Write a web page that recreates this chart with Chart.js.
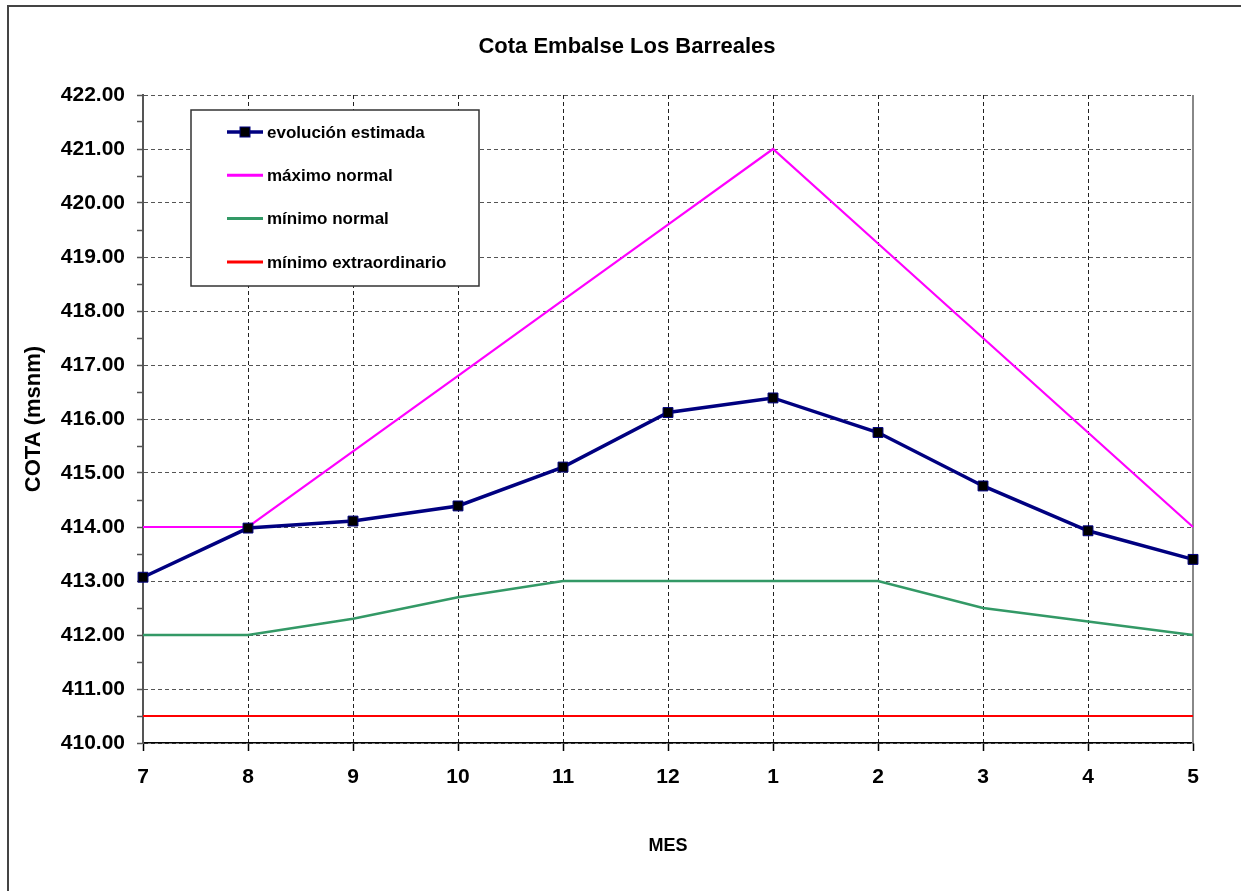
<!DOCTYPE html>
<html>
<head>
<meta charset="utf-8">
<title>Cota Embalse Los Barreales</title>
<script src="https://cdn.jsdelivr.net/npm/chart.js@4.4.1/dist/chart.umd.min.js"></script>
<style>
  body { margin: 0; background: #fff; }
  canvas { display: block; }
</style>
</head>
<body>
<canvas id="cotaChart" width="1241" height="891"></canvas>
<script>
// Meses del año hidrológico (julio a mayo)
const meses = ['7', '8', '9', '10', '11', '12', '1', '2', '3', '4', '5'];

// Cotas en msnm
const evolucionEstimada = [413.07, 413.98, 414.11, 414.39, 415.11, 416.12, 416.39, 415.75, 414.76, 413.93, 413.40];
const maximoNormal = [414.00, 414.00, 415.40, 416.80, 418.20, 419.60, 421.00, 419.25, 417.50, 415.75, 414.00];
const minimoNormal = [412.00, 412.00, 412.30, 412.70, 413.00, 413.00, 413.00, 413.00, 412.50, 412.25, 412.00];
const minimoExtraordinario = [410.50, 410.50, 410.50, 410.50, 410.50, 410.50, 410.50, 410.50, 410.50, 410.50, 410.50];

const yMin = 410;
const yMax = 422;

const FONT = '"Liberation Sans", Arial, sans-serif';

// frame, title, right plot border and the boxed legend
const decorations = {
    id: 'decorations',
    beforeDraw(chart) {
        const ctx = chart.ctx;
        ctx.save();
        ctx.fillStyle = '#fff';
        ctx.fillRect(0, 0, chart.width, chart.height);
        ctx.strokeStyle = '#444';
        ctx.lineWidth = 2;
        ctx.beginPath();
        ctx.moveTo(8, chart.height + 5);
        ctx.lineTo(8, 6);
        ctx.lineTo(chart.width + 5, 6);
        ctx.stroke();

        ctx.fillStyle = '#000';
        ctx.font = 'bold 22px ' + FONT;
        ctx.textAlign = 'center';
        ctx.textBaseline = 'alphabetic';
        ctx.fillText('Cota Embalse Los Barreales', 627, 53);
        ctx.restore();
    },
    beforeDatasetsDraw(chart) {
        const ctx = chart.ctx;
        const area = chart.chartArea;
        ctx.save();
        ctx.strokeStyle = '#888';
        ctx.lineWidth = 2;
        ctx.beginPath();
        ctx.moveTo(area.right, area.top);
        ctx.lineTo(area.right, area.bottom);
        ctx.stroke();
        ctx.restore();
    },
    afterDraw(chart) {
        const ctx = chart.ctx;
        ctx.save();

        // legend
        const bx = 191, by = 110, bw = 288, bh = 176;
        ctx.fillStyle = '#fff';
        ctx.fillRect(bx, by, bw, bh);
        ctx.strokeStyle = '#333';
        ctx.lineWidth = 1.5;
        ctx.strokeRect(bx, by, bw, bh);

        ctx.font = 'bold 17px ' + FONT;
        ctx.textAlign = 'left';
        ctx.textBaseline = 'middle';
        chart.data.datasets.forEach((ds, i) => {
            const ly = 132 + i * 43.3;
            ctx.strokeStyle = ds.borderColor;
            ctx.lineWidth = Math.max(ds.borderWidth, 3);
            ctx.beginPath();
            ctx.moveTo(227, ly);
            ctx.lineTo(263, ly);
            ctx.stroke();
            if (ds.pointRadius) {
                ctx.fillStyle = ds.pointBackgroundColor;
                ctx.fillRect(240, ly - 5, 10, 10);
                ctx.strokeStyle = ds.pointBorderColor;
                ctx.lineWidth = 1;
                ctx.strokeRect(240, ly - 5, 10, 10);
            }
            ctx.fillStyle = '#000';
            ctx.fillText(ds.label, 267, ly + 1);
        });
        ctx.restore();
    }
};

new Chart(document.getElementById('cotaChart').getContext('2d'), {
    type: 'line',
    data: {
        labels: meses,
        datasets: [{
            label: 'evolución estimada',
            data: evolucionEstimada,
            borderColor: '#000080',
            borderWidth: 3.5,
            pointStyle: 'rect',
            pointRadius: 7,
            pointBackgroundColor: '#000',
            pointBorderColor: '#000080',
            pointBorderWidth: 1,
            clip: false
        }, {
            label: 'máximo normal',
            data: maximoNormal,
            borderColor: '#ff00ff',
            borderWidth: 2.2,
            pointRadius: 0,
            clip: false
        }, {
            label: 'mínimo normal',
            data: minimoNormal,
            borderColor: '#339966',
            borderWidth: 2.5,
            pointRadius: 0,
            clip: false
        }, {
            label: 'mínimo extraordinario',
            data: minimoExtraordinario,
            borderColor: '#ff0000',
            borderWidth: 2.2,
            pointRadius: 0,
            clip: false
        }]
    },
    options: {
        responsive: false,
        animation: false,
        layout: { padding: { top: 95, right: 48, left: 0, bottom: 0 } },
        elements: { line: { tension: 0 } },
        plugins: {
            legend: { display: false },
            title: { display: false },
            tooltip: { enabled: false }
        },
        scales: {
            x: {
                offset: false,
                afterFit: s => { s.height = 148; },
                grid: { color: '#222', lineWidth: 1, tickLength: 8, tickColor: '#000', tickWidth: 1.5 },
                border: { color: '#000', width: 1.5, dash: [4, 3] },
                ticks: {
                    color: '#000',
                    padding: 14,
                    font: { family: FONT, size: 21, weight: 'bold' }
                },
                title: {
                    display: true,
                    text: 'MES',
                    color: '#000',
                    padding: { top: 0, bottom: 34 },
                    font: { family: FONT, size: 18, weight: 'bold' }
                }
            },
            y: {
                min: yMin,
                max: yMax,
                afterFit: s => { s.width = 143; },
                grid: {
                    color: c => Number.isInteger(c.tick.value) ? '#555' : 'rgba(0,0,0,0)',
                    lineWidth: 1,
                    tickLength: 6,
                    tickColor: '#555',
                    tickWidth: 1.5
                },
                border: { color: '#555', width: 2, dash: [4, 3] },
                ticks: {
                    stepSize: 0.5,
                    autoSkip: false,
                    color: '#000',
                    padding: 12,
                    font: { family: FONT, size: 21, weight: 'bold' },
                    callback: v => Number.isInteger(v) ? v.toFixed(2) : ''
                },
                title: {
                    display: true,
                    text: 'COTA (msnm)',
                    color: '#000',
                    padding: { top: 21, bottom: 0 },
                    font: { family: FONT, size: 22, weight: 'bold' }
                }
            }
        }
    },
    plugins: [decorations]
});
</script>
</body>
</html>
